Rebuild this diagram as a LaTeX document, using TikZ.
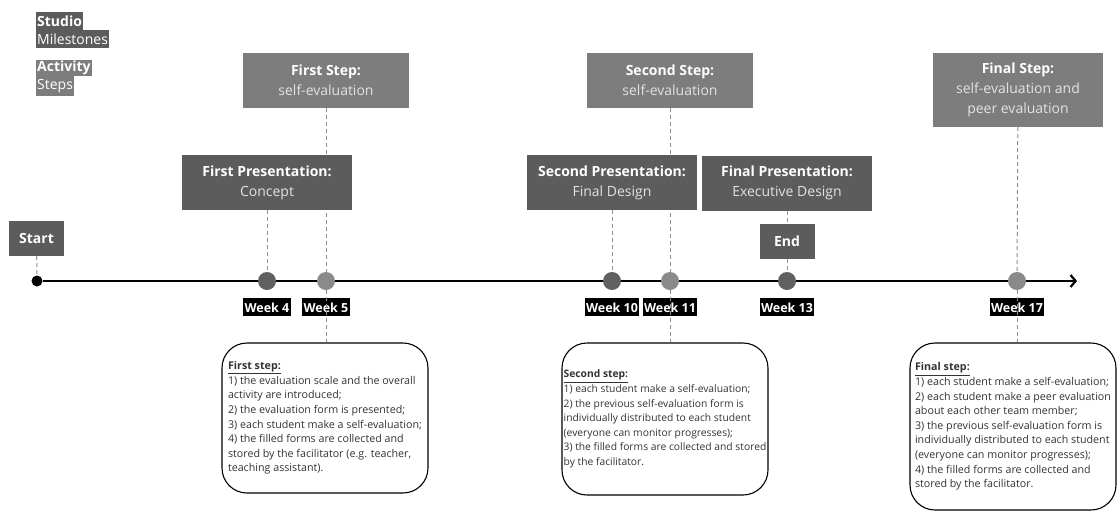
\documentclass[tikz,border=0pt]{standalone}
\usepackage{fontspec}
\setmainfont{Open Sans}
\usetikzlibrary{arrows.meta,positioning,backgrounds}
\definecolor{milegray}{HTML}{5C5C5C}
\definecolor{stepgray}{HTML}{7D7D7D}
\definecolor{linkgray}{HTML}{8E8E8E}
\definecolor{dotdark}{HTML}{616161}
\definecolor{dotlight}{HTML}{8A8A8A}
\definecolor{subtext}{HTML}{E2E2E2}
\definecolor{notetext}{HTML}{333333}
\tikzset{
  milebox/.style={fill=milegray, text=white, align=center, inner sep=0pt,
    minimum width=170pt, minimum height=55pt, font=\fontsize{14}{20}\selectfont},
  stepbox/.style={milebox, fill=stepgray, minimum width=166pt},
  tagbox/.style={milebox, minimum width=55pt, minimum height=35pt},
  legendbar/.style={anchor=north west, inner sep=1pt, text=white,
    minimum height=18pt, font=\fontsize{14}{16}\selectfont},
  weekdot/.style={circle, minimum size=18pt, inner sep=0pt},
  weeklbl/.style={fill=black, text=white, inner sep=1.5pt, minimum height=18pt,
    font=\bfseries\fontsize{12.5}{14}\selectfont},
  link/.style={draw=linkgray, line width=1pt, dash pattern=on 4pt off 3pt},
  notebox/.style={draw=black, line width=1.1pt, rounded corners=25pt,
    text=notetext, inner sep=3pt, align=left, minimum width=206pt,
    font=\fontsize{10.7}{14.6}\selectfont},
}
\begin{document}
\begin{tikzpicture}[x=1pt, y=-1pt]
  \useasboundingbox (0,0) rectangle (1117,515);
  % legend
  \node[legendbar, fill=milegray] (lgA) at (36,12) {\textbf{Studio}};
  \node[legendbar, fill=milegray] (lgB) at (36,30) {Milestones};
  \node[legendbar, fill=stepgray, minimum height=16pt] (lgC) at (36,60) {\textbf{Activity}};
  \node[legendbar, fill=stepgray, minimum height=20pt] (lgD) at (36,76) {Steps};
  % steps and milestones
  \node[stepbox] (st1) at (326,80.5) {\textbf{First Step:}\\{\color{subtext}self-evaluation}};
  \node[stepbox] (st2) at (670,80.5) {\textbf{Second Step:}\\{\color{subtext}self-evaluation}};
  \node[stepbox, minimum width=170pt, minimum height=74pt] (st3) at (1018,90)
    {\textbf{Final Step:}\\{\color{subtext}self-evaluation and}\\{\color{subtext}peer evaluation}};
  \node[milebox] (p1) at (267,182.5) {\textbf{First Presentation:}\\{\color{subtext}Concept}};
  \node[milebox] (p2) at (612,182.5) {\textbf{Second Presentation:}\\{\color{subtext}Final Design}};
  \node[milebox] (p3) at (787,183) {\textbf{Final Presentation:}\\{\color{subtext}Executive Design}};
  \node[tagbox] (start) at (36.5,238.5) {\textbf{Start}};
  \node[tagbox] (end) at (787,241.5) {\textbf{End}};
  % timeline
  \node[circle, fill=black, minimum size=11pt, inner sep=0pt] (s0) at (37,281) {};
  \coordinate (tlend) at (1077,281);
  \draw[line width=2.8pt, -{Straight Barb[length=5pt, width=12pt, line width=2.2pt]}] (s0) -- (tlend);
  \foreach \n/\x/\c in {w4/267/dotdark, w5/326/dotlight, w10/612/dotdark,
                        w11/670/dotlight, w13/787/dotdark, w17/1017/dotlight}
    \node[weekdot, fill=\c] (\n) at (\x,281) {};
  \foreach \n/\t in {w4/4, w5/5, w10/10, w11/11, w13/13, w17/17}
    \node[weeklbl, below=8pt of \n] (l\n) {Week \t};
  % notes
  \node[notebox, minimum height=150pt] (n1) at (325,418)
    {\underline{\textbf{First step:}}\\
     1) the evaluation scale and the overall\\
     activity are introduced;\\
     2) the evaluation form is presented;\\
     3) each student make a self-evaluation;\\
     4) the filled forms are collected and\\
     stored by the facilitator (e.g. teacher,\\
     teaching assistant).};
  \node[notebox, minimum height=152pt, inner xsep=1pt, font=\fontsize{10.3}{14.6}\selectfont] (n2) at (665,419)
    {\underline{\textbf{Second step:}}\\
     1) each student make a self-evaluation;\\
     2) the previous self-evaluation form is\\
     individually distributed to each student\\
     (everyone can monitor progresses);\\
     3) the filled forms are collected and stored\\
     by the facilitator.};
  \node[notebox, minimum height=167pt] (n3) at (1013,426.5)
    {\underline{\textbf{Final step:}}\\
     1) each student make a self-evaluation;\\
     2) each student make a peer evaluation\\
     about each other team member;\\
     3) the previous self-evaluation form is\\
     individually distributed to each student\\
     (everyone can monitor progresses);\\
     4) the filled forms are collected and\\
     stored by the facilitator.};
  % connectors
  \begin{scope}[on background layer]
    \draw[link] (start) -- (s0);
    \draw[link] (p1) -- (w4);
    \draw[link] (st1) -- (w5);
    \draw[link] (p2) -- (w10);
    \draw[link] (st2) -- (w11);
    \draw[link] (p3) -- (end);
    \draw[link] (end) -- (w13);
    \draw[link] (st3) -- (w17);
  \end{scope}
  \draw[link] (w5.south) -- (w5 |- n1.north);
  \draw[link] (w11.south) -- (w11 |- n2.north);
  \draw[link] (w17.south) -- (w17 |- n3.north);
\end{tikzpicture}
\end{document}
